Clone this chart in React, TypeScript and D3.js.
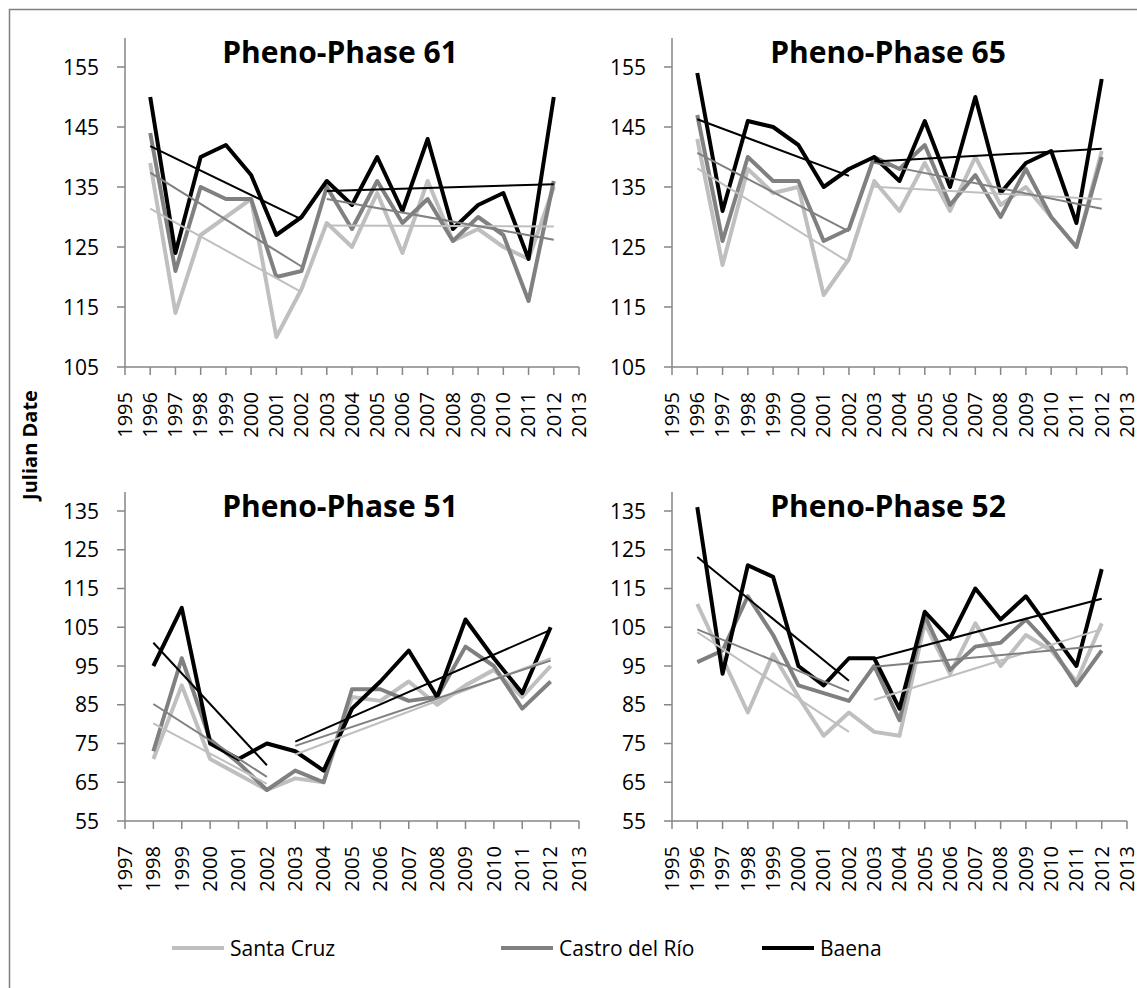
import React from 'react';
import * as d3 from 'd3';

// years
const years96 = [1996, 1997, 1998, 1999, 2000, 2001, 2002, 2003, 2004, 2005, 2006, 2007, 2008, 2009, 2010, 2011, 2012];
const years98 = [1998, 1999, 2000, 2001, 2002, 2003, 2004, 2005, 2006, 2007, 2008, 2009, 2010, 2011, 2012];

// tick labels
const xTicks95 = [1995, 1996, 1997, 1998, 1999, 2000, 2001, 2002, 2003, 2004, 2005, 2006, 2007, 2008, 2009, 2010, 2011, 2012, 2013];
const xTicks97 = [1997, 1998, 1999, 2000, 2001, 2002, 2003, 2004, 2005, 2006, 2007, 2008, 2009, 2010, 2011, 2012, 2013];
const yTicksHigh = [105, 115, 125, 135, 145, 155];
const yTicksLow = [55, 65, 75, 85, 95, 105, 115, 125, 135];

// Pheno-Phase 61
const p61Santa = [139, 114, 127, 130, 133, 110, 118, 129, 125, 134, 124, 136, 126, 128, 125, 123, 135];
const p61Castro = [144, 121, 135, 133, 133, 120, 121, 135, 128, 136, 129, 133, 126, 130, 127, 116, 136];
const p61Baena = [150, 124, 140, 142, 137, 127, 130, 136, 132, 140, 131, 143, 128, 132, 134, 123, 150];

// Pheno-Phase 65
const p65Santa = [143, 122, 138, 134, 135, 117, 123, 136, 131, 139, 131, 140, 132, 135, 130, 125, 141];
const p65Castro = [147, 126, 140, 136, 136, 126, 128, 140, 138, 142, 132, 137, 130, 138, 130, 125, 140];
const p65Baena = [154, 131, 146, 145, 142, 135, 138, 140, 136, 146, 135, 150, 134, 139, 141, 129, 153];

// Pheno-Phase 51 (1998-2012)
const p51Santa = [71, 90, 71, 67, 63, 66, 65, 87, 86, 91, 85, 90, 94, 87, 95];
const p51Castro = [73, 97, 76, 70, 63, 68, 65, 89, 89, 86, 87, 100, 95, 84, 91];
const p51Baena = [95, 110, 75, 71, 75, 73, 68, 84, 91, 99, 87, 107, 97, 88, 105];

// Pheno-Phase 52
const p52Santa = [111, 97, 83, 98, 87, 77, 83, 78, 77, 106, 93, 106, 95, 103, 99, 91, 106];
const p52Castro = [96, 99, 113, 103, 90, 88, 86, 95, 81, 108, 94, 100, 101, 107, 100, 90, 99];
const p52Baena = [136, 93, 121, 118, 95, 90, 97, 97, 84, 109, 102, 115, 107, 113, 104, 95, 120];

// trend periods
const periods96 = [[1996, 2002], [2003, 2012]];
const periods98 = [[1998, 2002], [2003, 2012]];

const seriesNames = ['Santa Cruz', 'Castro del Río', 'Baena'];
const seriesColors = ['#bfbfbf', '#808080', '#000000'];

const FONT = "'Open Sans', 'DejaVu Sans', sans-serif";
const AXIS = '#868686';

const panels = [
  { title: 'Pheno-Phase 61', years: years96, xTicks: xTicks95, yTicks: yTicksHigh, series: [p61Santa, p61Castro, p61Baena], periods: periods96,
    left: 125, right: 579, top: 67, bottom: 367, axisTop: 38, titleX: 340, titleY: 63 },
  { title: 'Pheno-Phase 65', years: years96, xTicks: xTicks95, yTicks: yTicksHigh, series: [p65Santa, p65Castro, p65Baena], periods: periods96,
    left: 672, right: 1127, top: 67, bottom: 367, axisTop: 38, titleX: 888, titleY: 63 },
  { title: 'Pheno-Phase 51', years: years98, xTicks: xTicks97, yTicks: yTicksLow, series: [p51Santa, p51Castro, p51Baena], periods: periods98,
    left: 125, right: 579, top: 511, bottom: 821, axisTop: 492, titleX: 340, titleY: 517 },
  { title: 'Pheno-Phase 52', years: years96, xTicks: xTicks95, yTicks: yTicksLow, series: [p52Santa, p52Castro, p52Baena], periods: periods96,
    left: 672, right: 1127, top: 511, bottom: 821, axisTop: 492, titleX: 888, titleY: 517 },
];

// least squares fit over a period
function trend(years: number[], vals: number[], from: number, to: number) {
  const pts = years.map((y, i) => [y, vals[i]]).filter(p => p[0] >= from && p[0] <= to);
  const mx = d3.mean(pts, p => p[0]) as number;
  const my = d3.mean(pts, p => p[1]) as number;
  const sxy = d3.sum(pts, p => (p[0] - mx) * (p[1] - my));
  const sxx = d3.sum(pts, p => (p[0] - mx) * (p[0] - mx));
  const b = sxy / sxx;
  return [[from, my + b * (from - mx)], [to, my + b * (to - mx)]];
}

const Panel = ({ p }: { p: any }) => {
  const xTicks = p.xTicks;
  const yTicks = p.yTicks;
  const x = d3.scaleLinear().domain([xTicks[0], xTicks[xTicks.length - 1]]).range([p.left, p.right]);
  const y = d3.scaleLinear().domain([yTicks[0], yTicks[yTicks.length - 1]]).range([p.bottom, p.top]);
  const line = d3.line<number[]>().x(d => x(d[0])).y(d => y(d[1]));

  return (
    <g>
      {/* data lines */}
      {p.series.map((vals: number[], i: number) => (
        <path key={'s' + i} d={line(p.years.map((yr: number, j: number) => [yr, vals[j]])) || ''}
          fill="none" stroke={seriesColors[i]} strokeWidth={4} strokeLinejoin="round" />
      ))}
      {/* trend lines */}
      {p.series.map((vals: number[], i: number) =>
        p.periods.map((per: number[], k: number) => (
          <path key={'t' + i + k} d={line(trend(p.years, vals, per[0], per[1])) || ''}
            fill="none" stroke={seriesColors[i]} strokeWidth={2} />
        ))
      )}
      {/* y axis */}
      <line x1={p.left} x2={p.left} y1={p.axisTop} y2={p.bottom} stroke={AXIS} strokeWidth={1.5} />
      {yTicks.map((t: number) => (
        <g key={'y' + t}>
          <line x1={p.left - 8} x2={p.left} y1={y(t)} y2={y(t)} stroke={AXIS} strokeWidth={1.5} />
          <text x={p.left - 26} y={y(t)} dy="0.36em" textAnchor="end" fontFamily={FONT} fontSize={21} fill="#000">{t}</text>
        </g>
      ))}
      {/* x axis */}
      <line x1={p.left} x2={p.right} y1={p.bottom} y2={p.bottom} stroke={AXIS} strokeWidth={1.5} />
      {xTicks.map((t: number) => (
        <g key={'x' + t}>
          <line x1={x(t)} x2={x(t)} y1={p.bottom} y2={p.bottom + 8} stroke={AXIS} strokeWidth={1.5} />
          <text transform={`translate(${x(t)},${p.bottom + 25}) rotate(-90)`} dy="0.34em" textAnchor="end"
            fontFamily={FONT} fontSize={20} fill="#000">{t}</text>
        </g>
      ))}
      <text x={p.titleX} y={p.titleY} textAnchor="middle" fontFamily={FONT} fontWeight="bold" fontSize={30} fill="#000">{p.title}</text>
    </g>
  );
};

const legendX = [172, 501, 762];

export default function App() {
  return (
    <svg width={1137} height={988} style={{ position: 'absolute', left: 0, top: 0, background: '#fff' }}>
      <rect x={0} y={0} width={1137} height={988} fill="#fff" />
      <rect x={9.5} y={9.5} width={1300} height={1100} fill="none" stroke="#7f7f7f" strokeWidth={1.5} />
      {panels.map(p => <Panel key={p.title} p={p} />)}
      <text transform="translate(30,445) rotate(-90)" textAnchor="middle" dy="0.35em" fontFamily={FONT} fontWeight="bold" fontSize={20} fill="#000">Julian Date</text>
      {seriesNames.map((n, i) => (
        <g key={n}>
          <line x1={legendX[i]} x2={legendX[i] + 52} y1={948} y2={948} stroke={seriesColors[i]} strokeWidth={4} />
          <text x={legendX[i] + 58} y={948} dy="0.36em" fontFamily={FONT} fontSize={21} fill="#000">{n}</text>
        </g>
      ))}
    </svg>
  );
}
